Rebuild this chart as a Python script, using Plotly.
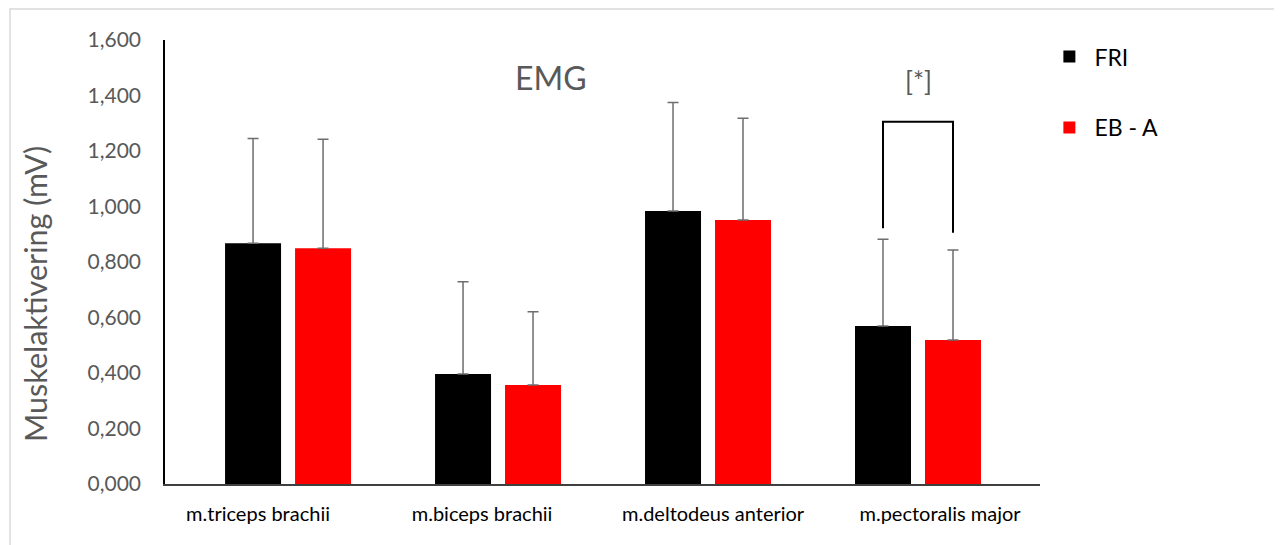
import plotly.graph_objects as go

categories = ["m.triceps brachii", "m.biceps brachii", "m.deltodeus anterior", "m.pectoralis major"]
fri = [0.868, 0.396, 0.984, 0.569]
fri_sd = [0.377, 0.333, 0.391, 0.313]
eba = [0.850, 0.357, 0.951, 0.519]
eba_sd = [0.392, 0.264, 0.367, 0.324]
series_names = ["FRI", "EB - A"]
ytick_vals = [0, 0.2, 0.4, 0.6, 0.8, 1.0, 1.2, 1.4, 1.6]
ytick_text = ["0,000", "0,200", "0,400", "0,600", "0,800", "1,000", "1,200", "1,400", "1,600"]
label_shift = [-0.143, -0.076, 0.024, 0.105]  # tick label offsets as in reference
# significance bracket (pectoralis major): left foot, top, right foot
bracket_y = [0.922, 1.305, 0.905]

xs = list(range(len(categories)))
GRAY = "#595959"
FONT = "Lato"

fig = go.Figure()
fig.add_trace(go.Bar(
    x=xs, y=fri, name=series_names[0], marker=dict(color="#000000", line=dict(width=0)),
    error_y=dict(type="data", array=fri_sd, symmetric=False, arrayminus=[0]*4,
                 color="#6d6d6d", thickness=1.5, width=5.5),
    legendgroup="a"))
fig.add_trace(go.Bar(
    x=xs, y=eba, name=series_names[1], marker=dict(color="#ff0000", line=dict(width=0)),
    error_y=dict(type="data", array=eba_sd, symmetric=False, arrayminus=[0]*4,
                 color="#6d6d6d", thickness=1.5, width=5.5),
    legendgroup="b"))

bw = 1/6
g = xs[3]
fig.add_shape(type="path",
              path=f"M {g-bw} {bracket_y[0]} L {g-bw} {bracket_y[1]} L {g+bw} {bracket_y[1]} L {g+bw} {bracket_y[2]}",
              xref="x", yref="y", line=dict(color="#000000", width=2))

fig.add_annotation(text="EMG", xref="paper", yref="paper", x=(551-165)/875, y=(484-77)/444,
                   xanchor="center", yanchor="middle",
                   showarrow=False, font=dict(family=FONT, size=32, color=GRAY))
fig.add_annotation(text="[*]", xref="x", yref="paper", x=g, y=(484-81)/444,
                   xanchor="center", yanchor="middle",
                   showarrow=False, font=dict(family=FONT, size=26, color=GRAY))
# y-axis title (placed as in reference, slightly below the axis centre)
fig.add_annotation(text="Muskelaktivering (mV)", xref="paper", yref="paper",
                   x=(35-165)/875, y=(484-294)/444, textangle=-90,
                   xanchor="center", yanchor="middle", showarrow=False,
                   font=dict(family=FONT, size=30.5, color=GRAY))

# outer chart border
fig.add_shape(type="rect", xref="paper", yref="paper",
              x0=(10-165)/875, x1=(1280-165)/875, y0=(484-570)/444, y1=(484-9)/444,
              line=dict(color="#d9d9d9", width=1.5), fillcolor="rgba(0,0,0,0)", layer="below")

fig.update_layout(
    width=1282, height=545,
    margin=dict(l=157, r=250, t=32, b=69),
    paper_bgcolor="white", plot_bgcolor="white",
    barmode="group", bargap=1/3, bargroupgap=0.2,
    showlegend=True,
    legend=dict(x=1.005, y=1.011, xanchor="left", yanchor="top", itemwidth=40,
                font=dict(family=FONT, size=23, color="#000000"),
                traceorder="grouped", tracegroupgap=38, bgcolor="rgba(0,0,0,0)"),
    xaxis=dict(range=[-0.586, 3.581], tickmode="array",
               tickvals=[x + s for x, s in zip(xs, label_shift)], ticktext=categories,
               showline=True, linecolor="#404040", linewidth=2, showgrid=False, zeroline=False,
               ticks="", ticklabelstandoff=11,
               tickfont=dict(family=FONT, size=20, color="#000000")),
    yaxis=dict(range=[0, 1.6], tickmode="array", tickvals=ytick_vals, ticktext=ytick_text,
               showline=True, linecolor="#000000", linewidth=1.5, showgrid=False, zeroline=False,
               ticks="", ticklabelstandoff=18,
               tickfont=dict(family=FONT, size=21, color=GRAY)),
)

fig.write_html("out.html")
